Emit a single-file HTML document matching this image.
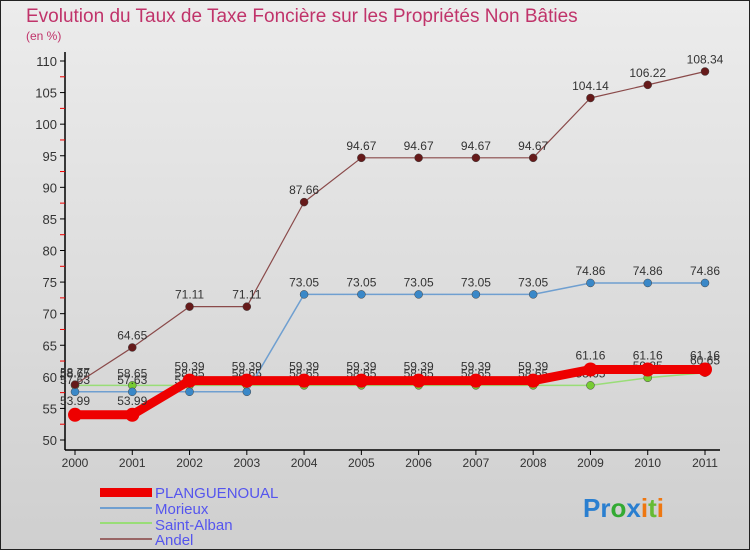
<!DOCTYPE html>
<html><head><meta charset="utf-8"><style>
body{margin:0;width:750px;height:550px;overflow:hidden;font-family:"Liberation Sans",sans-serif}
</style></head><body>
<svg id="c" width="750" height="550" xmlns="http://www.w3.org/2000/svg">
<defs><linearGradient id="bg" x1="0" y1="0" x2="0" y2="1"><stop offset="0" stop-color="#ececec"/><stop offset="1" stop-color="#cfcfcf"/></linearGradient></defs>
<rect x="0.5" y="0.5" width="749" height="549" fill="url(#bg)" stroke="#222"/>
<text x="26" y="22" font-size="19" fill="#c0336a">Evolution du Taux de Taxe Foncière sur les Propriétés Non Bâties</text>
<text x="26" y="40" font-size="12" fill="#c0336a">(en %)</text>
<g id="axes"></g><g id="series"></g>
<g>
<rect x="100" y="488" width="52" height="9" fill="#ee0000"/>
<text x="155" y="498" font-size="15" fill="#5555ee">PLANGUENOUAL</text>
<rect x="100" y="507" width="52" height="2" fill="#6f9fd0"/>
<text x="155" y="514" font-size="15" fill="#5555ee">Morieux</text>
<rect x="100" y="522" width="52" height="2" fill="#99dd77"/>
<text x="155" y="530" font-size="15" fill="#5555ee">Saint-Alban</text>
<rect x="100" y="538" width="52" height="2" fill="#996666"/>
<text x="155" y="545" font-size="15" fill="#5555ee">Andel</text>
</g>
<text x="583" y="517" font-size="26" font-weight="bold"><tspan fill="#2a7fd0">Pr</tspan><tspan fill="#33aa33">o</tspan><tspan fill="#2a7fd0">x</tspan><tspan fill="#ee7711">i</tspan><tspan fill="#66bb33">t</tspan><tspan fill="#ee7711">i</tspan></text>
</svg>
<script>
const years=[2000,2001,2002,2003,2004,2005,2006,2007,2008,2009,2010,2011];
const yTicks=[50,55,60,65,70,75,80,85,90,95,100,105,110];
const planguenoual=[53.99,53.99,59.39,59.39,59.39,59.39,59.39,59.39,59.39,61.16,61.16,61.16];
const morieux=[57.63,57.63,57.63,57.63,73.05,73.05,73.05,73.05,73.05,74.86,74.86,74.86];
const saintAlban=[58.65,58.65,58.65,58.65,58.65,58.65,58.65,58.65,58.65,58.65,59.85,60.65];
const andel=[58.77,64.65,71.11,71.11,87.66,94.67,94.67,94.67,94.67,104.14,106.22,108.34];
const NS="http://www.w3.org/2000/svg";
const x=i=>75+i*(630/(years.length-1));
const y=v=>440-(v-50)*(379/60);
function mk(t,a,p){const e=document.createElementNS(NS,t);for(const k in a)e.setAttribute(k,a[k]);p.appendChild(e);return e;}
const ax=document.getElementById('axes'),sg=document.getElementById('series');
let e=mk('line',{x1:65,y1:52,x2:65,y2:450,stroke:'#000','stroke-width':1.5},ax);


e=mk('line',{x1:65,y1:450,x2:720,y2:450,stroke:'#000','stroke-width':1.5},ax);


yTicks.forEach((v,i)=>{mk('line',{x1:60,x2:65,y1:y(v),y2:y(v),stroke:'#000'},ax);
if(i<yTicks.length-1)mk('line',{x1:60,x2:65,y1:y(v+2.5),y2:y(v+2.5),stroke:'#e00'},ax);
const t=mk('text',{x:57,y:y(v)+5,'font-size':13,'text-anchor':'end',fill:'#333'},ax);t.textContent=v;

});
years.forEach((yr,i)=>{mk('line',{x1:x(i),x2:x(i),y1:450,y2:455,stroke:'#000'},ax);
const t=mk('text',{x:x(i),y:467,'font-size':12,'text-anchor':'middle',fill:'#333'},ax);t.textContent=yr;

});
function series(d,name,col,w,r,dot,lblDy){
const g=mk('g',{},sg);


const l=mk('polyline',{points:d.map((v,i)=>x(i)+','+y(v)).join(' '),fill:'none',stroke:col,'stroke-width':w,'stroke-linejoin':'round'},g);


d.forEach((v,i)=>{const c=mk('circle',{cx:x(i),cy:y(v),r:r,fill:dot,stroke:'#444','stroke-width':r>5?0:0.5},g);


const t=mk('text',{x:x(i),y:y(v)+lblDy,'font-size':12,'text-anchor':'middle',fill:'#333'},g);t.textContent=v.toFixed(2);

});}
series(saintAlban,'saint-alban','#99dd77',1.5,4,'#77cc33',-8);
series(morieux,'morieux','#6f9fd0',1.5,4,'#3a88c8',-8);
series(planguenoual,'planguenoual','#ee0000',9,7,'#ee0000',-10);
series(andel,'andel','#8a4a4a',1.2,4,'#661a1a',-8);
</script>
</body></html>
